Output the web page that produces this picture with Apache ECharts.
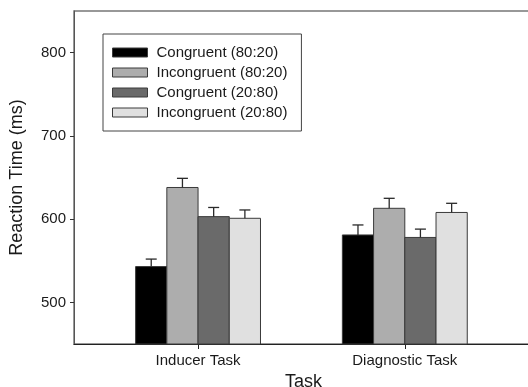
<!DOCTYPE html>
<html>
<head>
<meta charset="utf-8">
<script src="https://cdn.jsdelivr.net/npm/echarts@6/dist/echarts.min.js"></script>
<style>
html,body{margin:0;padding:0;background:#fff;}
#chart{width:528px;height:387px;}
</style>
</head>
<body>
<div id="chart"></div>
<script>
var categories = ['Inducer Task', 'Diagnostic Task'];
var seriesNames = ['Congruent (80:20)', 'Incongruent (80:20)', 'Congruent (20:80)', 'Incongruent (20:80)'];
var congruent8020 = [543, 581];
var incongruent8020 = [638, 613];
var congruent2080 = [603, 578];
var incongruent2080 = [601, 608];
var errCongruent8020 = [9, 12];
var errIncongruent8020 = [11, 12];
var errCongruent2080 = [11, 10];
var errIncongruent2080 = [10, 11];
var yTicks = [500, 600, 700, 800];

var values = [congruent8020, incongruent8020, congruent2080, incongruent2080];
var errors = [errCongruent8020, errIncongruent8020, errCongruent2080, errIncongruent2080];
var colors = ['#000000', '#adadad', '#6a6a6a', '#e0e0e0'];
var FONT = 'Liberation Sans, Arial, sans-serif';
var barW = 0.151;
var offsets = [-1.5, -0.5, 0.5, 1.5];

var chart = echarts.init(document.getElementById('chart'), null, {renderer: 'canvas'});

var series = values.map(function (vals, si) {
  return {
    name: seriesNames[si],
    type: 'custom',
    itemStyle: {color: colors[si], borderColor: '#3a3a3a', borderWidth: 1},
    data: vals.map(function (v, ci) { return [ci + 1, v, errors[si][ci]]; }),
    encode: {x: 0, y: 1},
    renderItem: function (params, api) {
      var xc = api.value(0) + offsets[si] * barW;
      var v = api.value(1);
      var e = api.value(2);
      var top = api.coord([xc, v]);
      var base = api.coord([xc, 450]);
      var errTop = api.coord([xc, v + e]);
      var w = api.size([barW, 0])[0];
      var capHalf = 5.5;
      return {
        type: 'group',
        children: [
          {type: 'rect', shape: {x: top[0] - w / 2, y: top[1], width: w, height: base[1] - top[1]},
           style: {fill: colors[si], stroke: '#3a3a3a', lineWidth: 1}},
          {type: 'line', shape: {x1: top[0], y1: top[1], x2: errTop[0], y2: errTop[1]},
           style: {stroke: '#2a2a2a', lineWidth: 1.3}},
          {type: 'line', shape: {x1: errTop[0] - capHalf, y1: errTop[1], x2: errTop[0] + capHalf, y2: errTop[1]},
           style: {stroke: '#2a2a2a', lineWidth: 1.3}}
        ]
      };
    }
  };
});

chart.setOption({
  animation: false,
  backgroundColor: '#ffffff',
  textStyle: {fontFamily: FONT},
  grid: {left: 74, top: 11, width: 459, height: 333, containLabel: false, outerBoundsMode: 'none',
         show: true, borderColor: '#777', borderWidth: 1.5},
  legend: {
    orient: 'vertical',
    left: 103,
    top: 34,
    padding: [11, 14, 11, 9],
    itemWidth: 35,
    itemHeight: 9,
    itemGap: 5,
    icon: 'rect',
    borderColor: '#444',
    borderWidth: 1,
    backgroundColor: '#fff',
    data: seriesNames.map(function (n, i) {
      return {name: n, itemStyle: {color: colors[i], borderColor: '#3a3a3a', borderWidth: 1}};
    }),
    textStyle: {fontFamily: FONT, fontSize: 15, color: '#1a1a1a', padding: [0, 0, 0, 4]}
  },
  xAxis: {
    type: 'value',
    min: 0.4,
    max: 2.62,
    name: 'Task',
    nameLocation: 'middle',
    nameGap: 28,
    nameTextStyle: {fontFamily: FONT, fontSize: 18, color: '#1a1a1a'},
    splitLine: {show: false},
    axisLine: {show: true, lineStyle: {color: '#222', width: 1}},
    axisTick: {show: true, customValues: [1, 2], length: 5, lineStyle: {color: '#222'}},
    axisLabel: {
      customValues: [1, 2],
      margin: 9,
      fontFamily: FONT, fontSize: 15, color: '#1a1a1a',
      formatter: function (v) { return categories[Math.round(v) - 1] || ''; }
    }
  },
  yAxis: {
    type: 'value',
    min: 450,
    max: 850,
    name: 'Reaction Time (ms)',
    nameLocation: 'middle',
    nameGap: 48,
    nameTextStyle: {fontFamily: FONT, fontSize: 18, color: '#1a1a1a'},
    splitLine: {show: false},
    axisLine: {show: true, lineStyle: {color: '#555', width: 1}},
    axisTick: {show: true, customValues: yTicks, length: 4, lineStyle: {color: '#333'}},
    axisLabel: {customValues: yTicks, margin: 8, fontFamily: FONT, fontSize: 15, color: '#1a1a1a'}
  },
  series: series
});
</script>
</body>
</html>
